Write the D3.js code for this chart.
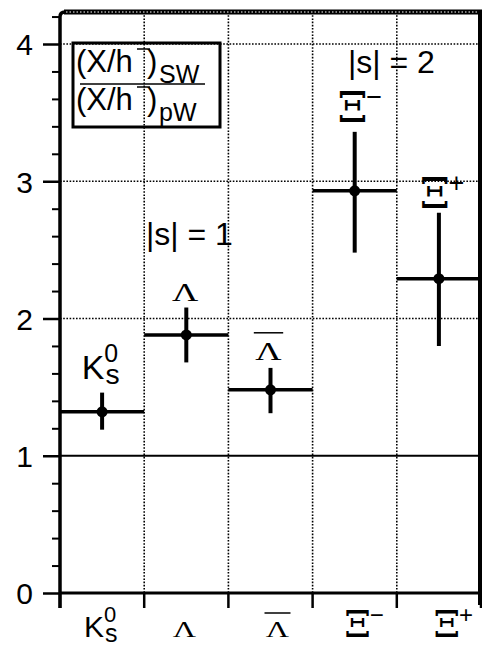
<!DOCTYPE html>
<html>
<head>
<meta charset="utf-8">
<script src="https://cdn.jsdelivr.net/npm/d3@7"></script>
<style>
  body { margin: 0; background: #fff; }
  svg { display: block; }
</style>
</head>
<body>
<div id="chart"></div>
<script>
// Strange particle enhancement, ratio of S-W over p-W yields per negative hadron

// Data
var particles = ["K0s", "Lambda", "LambdaBar", "XiMinus", "XiPlus"];
var ratio     = [1.32, 1.88, 1.48, 2.93, 2.29];
var errUp     = [0.14, 0.20, 0.16, 0.43, 0.48];
var errDown   = [0.13, 0.20, 0.17, 0.45, 0.49];
var yTicks    = [0, 1, 2, 3, 4];
var yGrid     = [2, 3, 4];
var strangeness = ["|s| = 1", "|s| = 2"];

// Basic setup (note: "top" is taken by window.top, so use plotTop)
var width = 482,
    height = 648,
    plotLeft = 60,
    plotRight = 481,
    plotTop = 12,
    plotBottom = 593;

var sans = "'Liberation Sans', Arial, Helvetica, sans-serif",
    serif = "'DejaVu Serif', 'Liberation Serif', serif",
    serifL = "'Liberation Serif', 'Times New Roman', serif";

var svg = d3.select("#chart").append("svg")
    .attr("width", width)
    .attr("height", height);

var x = d3.scaleBand()
    .domain(particles)
    .range([plotLeft, plotRight]);

var y = d3.scaleLinear()
    .domain([0, 4])
    .range([plotBottom, 44]);

var bw = x.bandwidth();
var cx = function(p) { return x(p) + bw / 2; };

// Dotted grid lines
svg.append("g").selectAll("line.vgrid")
    .data(particles.slice(1))
  .enter().append("line")
    .attr("x1", function(d) { return x(d); })
    .attr("x2", function(d) { return x(d); })
    .attr("y1", plotTop)
    .attr("y2", plotBottom)
    .attr("stroke", "#000")
    .attr("stroke-width", 1.6)
    .attr("stroke-dasharray", "1.6,1.6");

svg.append("g").selectAll("line.hgrid")
    .data(yGrid)
  .enter().append("line")
    .attr("x1", plotLeft)
    .attr("x2", plotRight)
    .attr("y1", function(d) { return y(d); })
    .attr("y2", function(d) { return y(d); })
    .attr("stroke", "#000")
    .attr("stroke-width", 1.6)
    .attr("stroke-dasharray", "1.6,1.6");

// reference line at ratio = 1
svg.append("line")
    .attr("x1", plotLeft).attr("x2", plotRight)
    .attr("y1", y(1)).attr("y2", y(1))
    .attr("stroke", "#000")
    .attr("stroke-width", 2);

// Left axis: major and minor ticks
var axisMajor = d3.axisLeft(y)
    .tickValues(yTicks)
    .tickSize(17)
    .tickPadding(10)
    .tickFormat(d3.format("d"));

var gy = svg.append("g")
    .attr("transform", "translate(" + plotLeft + ",0)")
    .call(axisMajor);
gy.select(".domain").remove();
gy.selectAll(".tick line").attr("stroke", "#000").attr("stroke-width", 2.5);
gy.selectAll(".tick text")
    .attr("font-family", sans)
    .attr("font-size", 30)
    .attr("dy", "0.36em")
    .attr("fill", "#000");

var minor = d3.range(0, 4.21, 0.2).filter(function(v) {
  return Math.abs(v - Math.round(v)) > 0.01;
});
var gyMinor = svg.append("g")
    .attr("transform", "translate(" + plotLeft + ",0)")
    .call(d3.axisLeft(y).tickValues(minor).tickSize(8).tickFormat(""));
gyMinor.select(".domain").remove();
gyMinor.selectAll(".tick line").attr("stroke", "#000").attr("stroke-width", 2);

// Bottom ticks at the category edges
var edges = particles.map(function(p) { return x(p); }).concat([plotRight]);
svg.append("g").selectAll("line.xtick")
    .data(edges)
  .enter().append("line")
    .attr("x1", function(d) { return d; })
    .attr("x2", function(d) { return d; })
    .attr("y1", plotBottom)
    .attr("y2", plotBottom + 15)
    .attr("stroke", "#000")
    .attr("stroke-width", 2.5);

// Frame: left axis, top border (rounded corner), right border, bottom axis
svg.append("path")
    .attr("d", "M" + plotLeft + "," + (plotBottom + 15) + "V" + (plotTop + 5) +
               "Q" + plotLeft + "," + plotTop + " " + (plotLeft + 5) + "," + plotTop)
    .attr("fill", "none")
    .attr("stroke", "#000")
    .attr("stroke-width", 3.5);
svg.append("line")
    .attr("x1", plotLeft + 4).attr("x2", plotRight + 1)
    .attr("y1", plotTop).attr("y2", plotTop)
    .attr("stroke", "#000").attr("stroke-width", 5);
svg.append("line")
    .attr("x1", plotLeft + 6).attr("x2", plotRight - 3)
    .attr("y1", plotTop).attr("y2", plotTop)
    .attr("stroke", "#fff").attr("stroke-width", 1)
    .attr("stroke-dasharray", "1.5,2");
svg.append("line")
    .attr("x1", plotRight - 1).attr("x2", plotRight - 1)
    .attr("y1", plotTop - 2).attr("y2", plotBottom + 12)
    .attr("stroke", "#000").attr("stroke-width", 4);
svg.append("line")
    .attr("x1", plotLeft).attr("x2", plotRight)
    .attr("y1", plotBottom).attr("y2", plotBottom)
    .attr("stroke", "#000").attr("stroke-width", 3);

// Data: horizontal bars over the category, error bars, markers
var pts = particles.map(function(p, i) {
  return { p: p, v: ratio[i], up: errUp[i], dn: errDown[i] };
});

var g = svg.append("g");

g.selectAll("line.bar")
    .data(pts)
  .enter().append("line")
    .attr("x1", function(d) { return x(d.p); })
    .attr("x2", function(d) { return x(d.p) + bw; })
    .attr("y1", function(d) { return y(d.v); })
    .attr("y2", function(d) { return y(d.v); })
    .attr("stroke", "#000")
    .attr("stroke-width", 3.5);

g.selectAll("line.err")
    .data(pts)
  .enter().append("line")
    .attr("x1", function(d) { return cx(d.p); })
    .attr("x2", function(d) { return cx(d.p); })
    .attr("y1", function(d) { return y(d.v + d.up); })
    .attr("y2", function(d) { return y(d.v - d.dn); })
    .attr("stroke", "#000")
    .attr("stroke-width", 4);

g.selectAll("circle.pt")
    .data(pts)
  .enter().append("circle")
    .attr("cx", function(d) { return cx(d.p); })
    .attr("cy", function(d) { return y(d.v); })
    .attr("r", 5.5)
    .attr("fill", "#000");

// Particle labels (k scales the glyphs; top labels are a bit larger)
function drawLabel(sel, p, k) {
  if (p === "K0s") {
    sel.append("text").attr("x", -18 * k).attr("y", 0)
        .attr("font-family", sans).attr("font-size", 30 * k).text("K");
    sel.append("text").attr("x", 2 * k).attr("y", -15 * k)
        .attr("font-family", sans).attr("font-size", 22 * k).text("0");
    sel.append("text").attr("x", 3 * k).attr("y", 5 * k)
        .attr("font-family", sans).attr("font-size", 25 * k).text("s");
  } else if (p === "Lambda" || p === "LambdaBar") {
    sel.append("text")
        .attr("transform", "scale(1.4,1)")
        .attr("text-anchor", "middle")
        .attr("font-family", serifL).attr("font-size", 23 * k).text("Λ");
    if (p === "LambdaBar") {
      sel.append("line")
          .attr("x1", -13 * k).attr("x2", 13 * k)
          .attr("y1", -24 * k).attr("y2", -24 * k)
          .attr("stroke", "#000").attr("stroke-width", 1.5);
    }
  } else {
    sel.append("text")
        .attr("text-anchor", "middle")
        .attr("font-family", serif)
        .attr("font-size", 38 * k).text("Ξ");
    sel.append("text").attr("x", 12 * k).attr("y", -14 * k)
        .attr("font-family", sans).attr("font-size", 24 * k)
        .text(p === "XiMinus" ? "−" : "+");
  }
}

// labels just above each error bar
var topGap = [14, 7, 8, 10, 5];
var topShift = [0, -1, -2, -2, -4];
pts.forEach(function(d, i) {
  var lg = svg.append("g")
      .attr("transform", "translate(" + (cx(d.p) + topShift[i]) + "," +
            (y(d.v + d.up) - topGap[i]) + ")");
  drawLabel(lg, d.p, 1.13);
});

// category labels below the axis
var bottomShift = [0, -2, 7, 3, 8];
particles.forEach(function(p, i) {
  var lg = svg.append("g")
      .attr("transform", "translate(" + (cx(p) + bottomShift[i]) + ",637)");
  drawLabel(lg, p, 1);
});

// Strangeness annotations
svg.append("text")
    .attr("x", 146).attr("y", 245)
    .attr("font-family", sans).attr("font-size", 32)
    .text(strangeness[0]);
svg.append("text")
    .attr("x", 348).attr("y", 73)
    .attr("font-family", sans).attr("font-size", 32)
    .text(strangeness[1]);

// Legend box with the ratio definition
var leg = svg.append("g");
leg.append("rect")
    .attr("x", 73).attr("y", 43)
    .attr("width", 147).attr("height", 84)
    .attr("fill", "none")
    .attr("stroke", "#000")
    .attr("stroke-width", 3);

function ratioLine(yBase, sub) {
  leg.append("text").attr("x", 76).attr("y", yBase)
      .attr("font-family", sans).attr("font-size", 31).text("(X/h");
  leg.append("text").attr("x", 147).attr("y", yBase)
      .attr("font-family", sans).attr("font-size", 31).text(")");
  leg.append("line")
      .attr("x1", 137).attr("x2", 150)
      .attr("y1", yBase - 23).attr("y2", yBase - 23)
      .attr("stroke", "#000").attr("stroke-width", 1.5);
  leg.append("text").attr("x", 159).attr("y", yBase + 11)
      .attr("font-family", sans).attr("font-size", 25).text(sub);
}
ratioLine(72, "SW");
ratioLine(110, "pW");
leg.append("line")
    .attr("x1", 80).attr("x2", 205)
    .attr("y1", 84).attr("y2", 84)
    .attr("stroke", "#000").attr("stroke-width", 1.5);
</script>
</body>
</html>
